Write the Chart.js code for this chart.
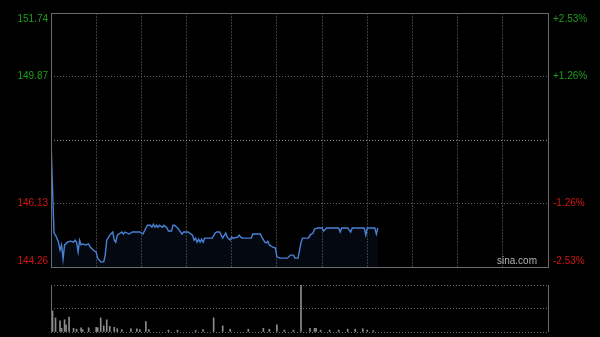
<!DOCTYPE html>
<html>
<head>
<meta charset="utf-8">
<script src="https://cdn.jsdelivr.net/npm/chart.js@4/dist/chart.umd.min.js"></script>
<style>
  html, body { margin: 0; padding: 0; background: #000; }
  #wrap { position: relative; width: 600px; height: 337px; background: #000; }
  canvas { position: absolute; left: 0; }
  #price { top: 0; }
  #vol { top: 275px; }
</style>
</head>
<body>
<div id="wrap">
  <canvas id="price" width="600" height="275"></canvas>
  <canvas id="vol" width="600" height="62"></canvas>
</div>
<script>
// intraday price, minute index from the open (330 minutes in the session)
const priceMinutes = [0, 1, 2, 3, 5, 6, 7, 8, 9, 11, 13, 15, 16, 17, 18, 19, 20, 21, 23, 25, 26, 28, 30, 31, 33, 35, 36, 37, 39, 41, 42, 43, 44, 47, 48, 49, 52, 54, 59, 61, 64, 66, 67, 68, 69, 70, 71, 72, 74, 75, 77, 78, 80, 81, 82, 84, 86, 87, 88, 91, 94, 95, 96, 97, 98, 99, 100, 101, 102, 107, 109, 110, 112, 113, 114, 116, 117, 119, 120, 121, 124, 125, 126, 127, 133, 134, 139, 140, 142, 143, 144, 145, 147, 149, 150, 152, 157, 159, 161, 162, 164, 166, 167, 171, 172, 174, 175, 177, 180, 181, 183, 191, 192, 193, 197, 199, 200, 208, 209, 210, 215, 216, 217];
const prices = [148.00, 146.60, 145.26, 145.20, 144.99, 144.76, 144.91, 144.49, 144.91, 144.99, 145.02, 144.99, 145.05, 144.99, 144.70, 145.05, 144.91, 144.94, 144.91, 144.94, 144.85, 144.76, 144.70, 144.52, 144.41, 144.41, 144.61, 145.05, 145.20, 145.29, 145.05, 144.99, 145.20, 145.29, 145.23, 145.29, 145.23, 145.29, 145.29, 145.23, 145.49, 145.49, 145.43, 145.52, 145.43, 145.49, 145.43, 145.49, 145.43, 145.49, 145.41, 145.32, 145.32, 145.49, 145.49, 145.41, 145.29, 145.23, 145.29, 145.29, 145.20, 145.05, 145.11, 144.99, 145.08, 144.99, 145.08, 144.99, 145.11, 145.11, 145.26, 145.29, 145.29, 145.20, 145.11, 145.26, 145.14, 145.05, 145.14, 145.11, 145.14, 145.20, 145.14, 145.11, 145.11, 145.23, 145.23, 145.14, 144.99, 144.97, 145.02, 144.91, 144.85, 144.82, 144.56, 144.52, 144.52, 144.61, 144.61, 144.52, 144.52, 144.97, 145.11, 145.11, 145.20, 145.26, 145.38, 145.41, 145.41, 145.32, 145.41, 145.41, 145.29, 145.41, 145.41, 145.29, 145.41, 145.41, 145.20, 145.41, 145.41, 145.23, 145.41];

// volume bars (relative units, 100 = top of the panel)
const volMinutes = [1, 3, 6, 7, 9, 10, 12, 15, 17, 20, 21, 25, 30, 31, 33, 35, 37, 39, 42, 44, 47, 53, 57, 59, 63, 65, 78, 84, 96, 101, 108, 114, 119, 131, 141, 145, 150, 155, 161, 166, 172, 175, 176, 179, 185, 191, 197, 202, 207, 210, 214];
const volumes = [45, 30, 24, 8, 26, 15, 32, 8, 6, 9, 5, 9, 10, 9, 30, 13, 26, 12, 10, 7, 5, 7, 7, 5, 22, 5, 4, 4, 3, 5, 30, 13, 6, 6, 8, 6, 15, 4, 4, 100, 8, 8, 8, 4, 4, 4, 6, 6, 7, 4, 3];

const prevClose = 148.00;
const priceTicks = [144.26, 146.13, 148.00, 149.87, 151.74];
const sessionMinutes = 330;

const green = '#1c9e1c';
const red = '#d41414';

const framePlugin = {
  id: 'frame',
  afterDraw(chart, args, opts) {
    const a = chart.chartArea, ctx = chart.ctx;
    ctx.save();
    ctx.strokeStyle = opts.color;
    ctx.lineWidth = 1;
    if (opts.sides === 'all') {
      ctx.strokeRect(Math.round(a.left) + 0.5, Math.round(a.top) + 0.5, Math.round(a.right - a.left), Math.round(a.bottom - a.top));
    } else {
      ctx.beginPath();
      ctx.moveTo(Math.round(a.left) + 0.5, a.top);
      ctx.lineTo(Math.round(a.left) + 0.5, a.bottom);
      ctx.moveTo(Math.round(a.right) + 0.5, a.top);
      ctx.lineTo(Math.round(a.right) + 0.5, a.bottom);
      ctx.stroke();
    }
    if (opts.mark) {
      ctx.fillStyle = '#b4b4b4';
      ctx.font = '10px "Liberation Sans", Arial, sans-serif';
      ctx.textAlign = 'right';
      ctx.textBaseline = 'bottom';
      ctx.fillText(opts.mark, a.right - 11, a.bottom - 1);
    }
    ctx.restore();
  }
};

const tickFont = { family: '"Liberation Sans", Arial, sans-serif', size: 10 };

function lineLabel(v, text) {
  if (Math.abs(v - prevClose) < 0.001) return '';
  if (v >= priceTicks[priceTicks.length - 1] - 0.001) return ['', text];
  if (v <= priceTicks[0] + 0.001) return [text, ''];
  return text;
}

function fixWidth(w) {
  return s => { s.width = w; s.paddingTop = 0; s.paddingBottom = 0; };
}

new Chart(document.getElementById('price'), {
  type: 'line',
  data: {
    datasets: [{
      data: priceMinutes.map((m, i) => ({ x: m, y: prices[i] })),
      borderColor: '#4a82d6',
      borderWidth: 1.4,
      pointRadius: 0,
      tension: 0,
      fill: 'start',
      backgroundColor: 'rgba(40,80,160,0.10)'
    }]
  },
  options: {
    responsive: false,
    animation: false,
    devicePixelRatio: 1,
    layout: { padding: { top: 13, bottom: 8, left: 0, right: 0 } },
    plugins: {
      legend: { display: false },
      tooltip: { enabled: false },
      frame: { color: '#6a6a6a', sides: 'all', mark: 'sina.com' }
    },
    scales: {
      x: {
        type: 'linear',
        min: 0,
        max: sessionMinutes,
        afterBuildTicks: s => { s.ticks = []; for (let m = 0; m <= sessionMinutes; m += 30) s.ticks.push({ value: m }); },
        afterFit: s => { s.height = 0; s.paddingLeft = 0; s.paddingRight = 0; },
        ticks: { display: false },
        grid: { color: '#3c3c3c', drawTicks: false, lineWidth: 1 },
        border: { display: false, dash: [2, 1] }
      },
      y: {
        position: 'left',
        min: priceTicks[0],
        max: priceTicks[priceTicks.length - 1],
        afterBuildTicks: s => { s.ticks = priceTicks.map(v => ({ value: v })); },
        afterFit: fixWidth(51),
        ticks: {
          font: tickFont,
          padding: 3,
          color: c => c.tick && c.tick.value > prevClose ? green : red,
          callback: v => lineLabel(v, v.toFixed(2))
        },
        grid: { color: c => (c.tick && Math.abs(c.tick.value - prevClose) < 0.001) ? '#8a8a8a' : '#5e5e5e', drawTicks: false },
        border: { display: false, dash: [1, 2] }
      },
      y2: {
        position: 'right',
        min: priceTicks[0],
        max: priceTicks[priceTicks.length - 1],
        afterBuildTicks: s => { s.ticks = priceTicks.map(v => ({ value: v })); },
        afterFit: fixWidth(52),
        ticks: {
          font: tickFont,
          padding: 5,
          color: c => c.tick && c.tick.value > prevClose ? green : red,
          callback: v => {
            const p = (v - prevClose) / prevClose * 100;
            return lineLabel(v, (p > 0 ? '+' : '') + p.toFixed(2) + '%');
          }
        },
        grid: { display: false, drawTicks: false },
        border: { display: false }
      }
    }
  },
  plugins: [framePlugin]
});

new Chart(document.getElementById('vol'), {
  type: 'bar',
  data: {
    datasets: [{
      data: volMinutes.map((m, i) => ({ x: m, y: volumes[i] })),
      backgroundColor: '#8c8c8c',
      barThickness: 1
    }]
  },
  options: {
    responsive: false,
    animation: false,
    devicePixelRatio: 1,
    layout: { padding: { top: 10, bottom: 5, left: 0, right: 52 } },
    plugins: {
      legend: { display: false },
      tooltip: { enabled: false },
      frame: { color: '#6a6a6a', sides: 'lr' }
    },
    scales: {
      x: {
        type: 'linear',
        min: 0,
        max: sessionMinutes,
        offset: false,
        display: false
      },
      y: {
        min: 0,
        max: 100,
        afterBuildTicks: s => { s.ticks = [0, 50, 100].map(v => ({ value: v })); },
        afterFit: fixWidth(51),
        ticks: { display: false },
        grid: { color: '#6a6a6a', drawTicks: false },
        border: { display: false, dash: [1, 2] }
      }
    }
  },
  plugins: [framePlugin]
});
</script>
</body>
</html>
